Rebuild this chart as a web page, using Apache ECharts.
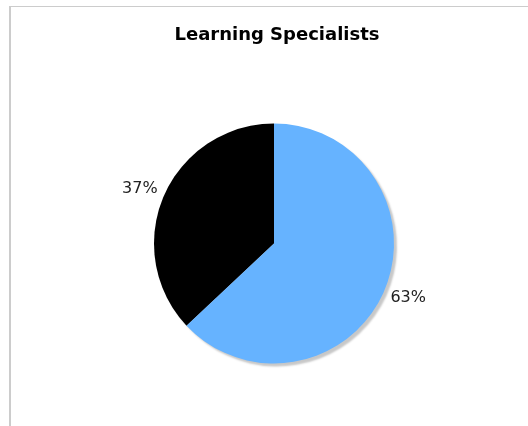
<!DOCTYPE html>
<html>
<head>
<meta charset="utf-8">
<script src="https://cdn.jsdelivr.net/npm/echarts@6/dist/echarts.min.js"></script>
<style>
  html, body { margin: 0; padding: 0; background: #fff; }
  #frame { position: absolute; left: 9px; top: 6px; width: 519px; height: 420px;
           border-left: 2px solid #cccccc; border-top: 1px solid #cccccc; }
  #chart { position: absolute; left: 0; top: 0; width: 528px; height: 426px; }
</style>
</head>
<body>
<div id="frame"></div>
<div id="chart"></div>
<script>
const title = 'Learning Specialists';
const categories = ['Other', 'Learning Specialists'];
const values = [37, 63];
const colors = ['#000000', '#66b3ff'];

const total = values.reduce((a, b) => a + b, 0);
const slices = categories.map((name, i) => ({
  name, value: values[i], itemStyle: { color: colors[i] }
}));

// label nudge: a little wider and flatter than the slice bisector
const labelItems = categories.map((name, i) => ({
  name, value: values[i],
  label: { offset: i === 0 ? [-2, 3] : [2, -3] }
}));

const chart = echarts.init(document.getElementById('chart'), null, { renderer: 'canvas' });
chart.setOption({
  animation: false,
  title: {
    text: title,
    left: 272, top: 21, textAlign: 'center',
    textStyle: { fontFamily: 'DejaVu Sans', fontWeight: 'bold', fontSize: 18, color: '#000' }
  },
  series: [
    {
      type: 'pie',
      center: [274, 243.5],
      radius: [0, 120],
      startAngle: 90,
      clockwise: false,
      label: { show: false },
      labelLine: { show: false },
      silent: true,
      itemStyle: {
        borderWidth: 0,
        shadowColor: 'rgba(0,0,0,0.22)',
        shadowOffsetX: 3, shadowOffsetY: 3, shadowBlur: 2
      },
      data: slices
    },
    {
      // transparent ring carrying the percentage labels just outside the pie
      type: 'pie',
      center: [274, 243.5],
      radius: [120, 162],
      startAngle: 90,
      clockwise: false,
      silent: true,
      itemStyle: { color: 'rgba(0,0,0,0)', borderWidth: 0 },
      label: {
        show: true, position: 'inside',
        formatter: p => Math.round(p.value / total * 100) + '%',
        fontFamily: 'DejaVu Sans', fontSize: 16, color: '#222'
      },
      labelLine: { show: false },
      data: labelItems
    }
  ]
});
</script>
</body>
</html>
